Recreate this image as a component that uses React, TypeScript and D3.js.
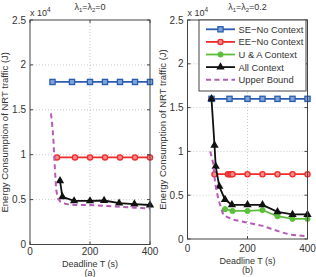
import React from 'react';
import * as d3 from 'd3';

// values in units of 1e4 J
const seXa = [75, 140, 200, 250, 300, 350, 400];
const seYa = [1.81, 1.81, 1.81, 1.81, 1.81, 1.81, 1.81];
const eeXa = [90, 150, 200, 250, 300, 350, 400];
const eeYa = [0.97, 0.97, 0.97, 0.97, 0.97, 0.97, 0.97];
// U & A coincides with All Context in (a) and is hidden beneath it
const uaXa: number[] = [];
const uaYa: number[] = [];
const allXa = [100, 108, 147, 200, 247, 297, 348, 400];
const allYa = [0.71, 0.53, 0.485, 0.485, 0.49, 0.46, 0.45, 0.44];
const ubXa = [70, 75, 78, 82, 87, 92, 100, 120, 150, 200, 250, 300, 350, 400];
const ubYa = [1.46, 1.3, 1.17, 0.9, 0.62, 0.52, 0.48, 0.45, 0.44, 0.44, 0.43, 0.42, 0.41, 0.40];

const seXb = [80, 140, 200, 250, 300, 350, 400];
const seYb = [1.6, 1.6, 1.6, 1.6, 1.6, 1.6, 1.6];
const eeXb = [90, 135, 140, 145, 150, 200, 250, 300, 350, 400];
const eeYb = [0.74, 0.74, 0.74, 0.74, 0.74, 0.74, 0.74, 0.74, 0.74, 0.74];
const uaXb = [125, 150, 200, 250, 300, 350, 400];
const uaYb = [0.34, 0.32, 0.32, 0.33, 0.26, 0.23, 0.23];
const allXb = [80, 90, 94, 106, 125, 148, 200, 250, 300, 350, 400];
const allYb = [1.6, 1.07, 0.83, 0.6, 0.45, 0.39, 0.39, 0.39, 0.31, 0.28, 0.28];
const ubXb = [76, 86, 92, 103, 120, 153, 209, 250, 276, 310, 343, 400];
const ubYb = [1.0, 0.86, 0.64, 0.45, 0.27, 0.22, 0.18, 0.15, 0.12, 0.08, 0.05, 0.03];

const xTicks = [0, 200, 400];
const yTicks = [0, 0.5, 1, 1.5, 2, 2.5];
const legendNames = ['SE\u2212No Context', 'EE\u2212No Context', 'U & A Context', 'All Context', 'Upper Bound'];

const FONT = 'Liberation Sans, Arial, Helvetica, sans-serif';
const BLUE = '#2a5db0';
const RED = '#ee2b2b';
const GREEN = '#5cbf3c';
const BLACK = '#111';
const PURPLE = '#b45cb8';
const colors = [BLUE, RED, GREEN, BLACK, PURPLE];

type Pt = [number, number];
const zip = (xs: number[], ys: number[]): Pt[] => xs.map((x, i) => [x, ys[i]]);

function Marker({ kind, x, y }: { kind: number; x: number; y: number }) {
  if (kind === 0) return <rect x={x - 2.6} y={y - 2.6} width={5.2} height={5.2} fill="#7fa3dc" stroke={BLUE} strokeWidth={1.3} />;
  if (kind === 1) return <circle cx={x} cy={y} r={2.6} fill="#f48a8a" stroke={RED} strokeWidth={1.3} />;
  if (kind === 2) return <circle cx={x} cy={y} r={2.6} fill={GREEN} stroke={GREEN} strokeWidth={1} />;
  if (kind === 3) return <path d={d3.symbol(d3.symbolTriangle, 30)() as string} transform={`translate(${x},${y})`} fill={BLACK} />;
  return null;
}

function Panel({ x0, x1, y0, y1, series, title, label, xlabBase, showLegend }: any) {
  const x = d3.scaleLinear().domain([0, 400]).range([x0, x1]);
  const y = d3.scaleLinear().domain([0, 2.5]).range([y1, y0]);
  const line = d3.line<Pt>().x(d => x(d[0])).y(d => y(d[1]));
  const cx = (x0 + x1) / 2;
  const cy = (y0 + y1) / 2;
  return (
    <g fontFamily={FONT} fill="#333">
      {/* grid */}
      {yTicks.slice(1, -1).map(t => (
        <line key={'gy' + t} x1={x0} x2={x1} y1={y(t)} y2={y(t)} stroke="#bbb" strokeWidth={0.8} strokeDasharray="1,2" />
      ))}
      <line x1={x(200)} x2={x(200)} y1={y0} y2={y1} stroke="#bbb" strokeWidth={0.8} strokeDasharray="1,2" />
      {/* series */}
      {series.map((s: Pt[], i: number) => s.length > 0 && (
        <g key={i}>
          <path d={line(s) as string} fill="none" stroke={colors[i]} strokeWidth={i === 4 ? 2 : 1.8}
            strokeDasharray={i === 4 ? '5,3.5' : undefined} />
          {s.map((p, j) => <Marker key={j} kind={i} x={x(p[0])} y={y(p[1])} />)}
        </g>
      ))}
      {/* box */}
      <rect x={x0} y={y0} width={x1 - x0} height={y1 - y0} fill="none" stroke="#444" strokeWidth={1} />
      {yTicks.map(t => (
        <g key={'yt' + t}>
          <line x1={x0} x2={x0 + 3} y1={y(t)} y2={y(t)} stroke="#444" />
          <line x1={x1} x2={x1 - 3} y1={y(t)} y2={y(t)} stroke="#444" />
          <text x={x0 - 4} y={y(t) + 3.5} fontSize={10} textAnchor="end">{t}</text>
        </g>
      ))}
      {xTicks.map(t => (
        <g key={'xt' + t}>
          <line x1={x(t)} x2={x(t)} y1={y1} y2={y1 - 3} stroke="#444" />
          <line x1={x(t)} x2={x(t)} y1={y0} y2={y0 + 3} stroke="#444" />
          <text x={x(t)} y={xlabBase} fontSize={10} textAnchor="middle">{t}</text>
        </g>
      ))}
      <text x={x0} y={15.5} fontSize={9}>x 10<tspan dy={-4} fontSize={6.5}>4</tspan></text>
      <text x={cx} y={10} fontSize={9} textAnchor="middle">
        {'\u03bb'}<tspan fontSize={6} dy={2}>1</tspan><tspan dy={-2}>={'\u03bb'}</tspan><tspan fontSize={6} dy={2}>2</tspan><tspan dy={-2}>={title}</tspan>
      </text>
      <text x={cx} y={xlabBase + 11.5} fontSize={9} textAnchor="middle">Deadline T (s)</text>
      <text x={cx} y={xlabBase + 21} fontSize={9} textAnchor="middle">{label}</text>
      <text transform={`translate(${x0 - 22},${cy}) rotate(-90)`} fontSize={9.5} textAnchor="middle">
        Energy Consumption of NRT traffic (J)
      </text>
      {showLegend && (
        <g>
          <rect x={199} y={y0} width={x1 - 1.5 - 199} height={71} fill="#fff" stroke="#444" strokeWidth={1} />
          {legendNames.map((n, i) => {
            const ly = 29.3 + i * 12.6;
            return (
              <g key={n}>
                <line x1={206} x2={235} y1={ly} y2={ly} stroke={colors[i]} strokeWidth={i === 4 ? 2 : 1.8}
                  strokeDasharray={i === 4 ? '5,3.5' : undefined} />
                <Marker kind={i} x={220.5} y={ly} />
                <text x={238.5} y={ly + 3.4} fontSize={9.4}>{n}</text>
              </g>
            );
          })}
        </g>
      )}
    </g>
  );
}

export default function App() {
  const seriesA = [zip(seXa, seYa), zip(eeXa, eeYa), zip(uaXa, uaYa), zip(allXa, allYa), zip(ubXa, ubYa)];
  const seriesB = [zip(seXb, seYb), zip(eeXb, eeYb), zip(uaXb, uaYb), zip(allXb, allYb), zip(ubXb, ubYb)];
  return (
    <svg width={316} height={277} style={{ position: 'absolute', left: 0, top: 0, background: '#fff' }}>
      <Panel x0={30} x1={150} y0={20} y1={244.5} series={seriesA} title="0" label="(a)" xlabBase={255} />
      <Panel x0={187.5} x1={307.5} y0={20} y1={239} series={seriesB} title="0.2" label="(b)" xlabBase={252} showLegend />
    </svg>
  );
}
